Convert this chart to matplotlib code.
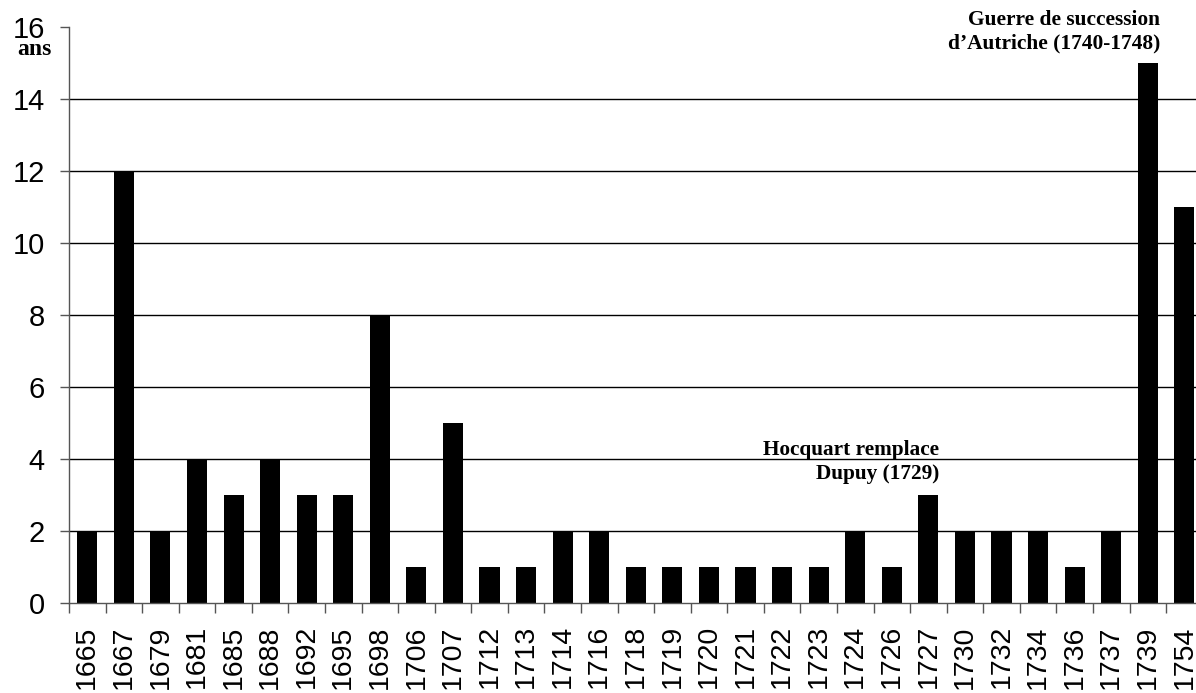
import matplotlib
matplotlib.use("Agg")
import matplotlib.pyplot as plt
import numpy as np

years = ["1665", "1667", "1679", "1681", "1685", "1688", "1692", "1695", "1698", "1706",
         "1707", "1712", "1713", "1714", "1716", "1718", "1719", "1720", "1721", "1722",
         "1723", "1724", "1726", "1727", "1730", "1732", "1734", "1736", "1737", "1739", "1754"]
durations = [2, 12, 2, 4, 3, 4, 3, 3, 8, 1,
             5, 1, 1, 2, 2, 1, 1, 1, 1, 1,
             1, 2, 1, 3, 2, 2, 2, 1, 2, 15, 11]
yticks = [0, 2, 4, 6, 8, 10, 12, 14, 16]

W, H = 1196, 693
fig = plt.figure(figsize=(W / 100, H / 100), dpi=100)
ax = fig.add_axes([69 / W, (H - 603) / H, 31 * 36.57 / W, 576 / H])

x = np.arange(len(years))
ax.bar(x, durations, width=0.55, color="black", zorder=3)
ax.set_xlim(-0.5, len(years) - 0.5)
ax.set_ylim(0, 16)

ax.set_yticks(yticks)
ax.set_yticklabels([str(v) for v in yticks], fontfamily="Liberation Sans", fontsize=21)
ax.tick_params(axis="y", direction="out", length=6.5, width=1, color="#555555", pad=11)

ax.set_xticks(x)
ax.set_xticklabels(years, rotation=90, fontfamily="Liberation Sans", fontsize=20.5, va="top")
ax.tick_params(axis="x", which="major", length=0, pad=16)
ax.set_xticks(np.arange(-0.5, len(years), 1.0), minor=True)
ax.tick_params(axis="x", which="minor", direction="out", length=7, width=1, color="#555555")

for s in ["top", "right"]:
    ax.spines[s].set_visible(False)
for s in ["left", "bottom"]:
    ax.spines[s].set_color("#555555")
    ax.spines[s].set_linewidth(1)
    ax.spines[s].set_zorder(4)

ax.yaxis.grid(True, color="black", linewidth=1, zorder=1)
ax.yaxis.get_gridlines()[-1].set_visible(False)
ax.yaxis.get_gridlines()[0].set_visible(False)

fig.text(34 / W, 1 - 55 / H, "ans", ha="center", va="baseline",
         fontfamily="Liberation Serif", fontweight="bold", fontsize=17)

ax.text(29.33, 16.47, "Guerre de succession\nd\u2019Autriche (1740-1748)", ha="right", va="top",
        fontfamily="Liberation Serif", fontweight="bold", fontsize=15.4, linespacing=1.25)
ax.text(23.29, 4.53, "Hocquart remplace\nDupuy (1729)", ha="right", va="top",
        fontfamily="Liberation Serif", fontweight="bold", fontsize=15.3, linespacing=1.25)

fig.savefig("out.png", dpi=100)
